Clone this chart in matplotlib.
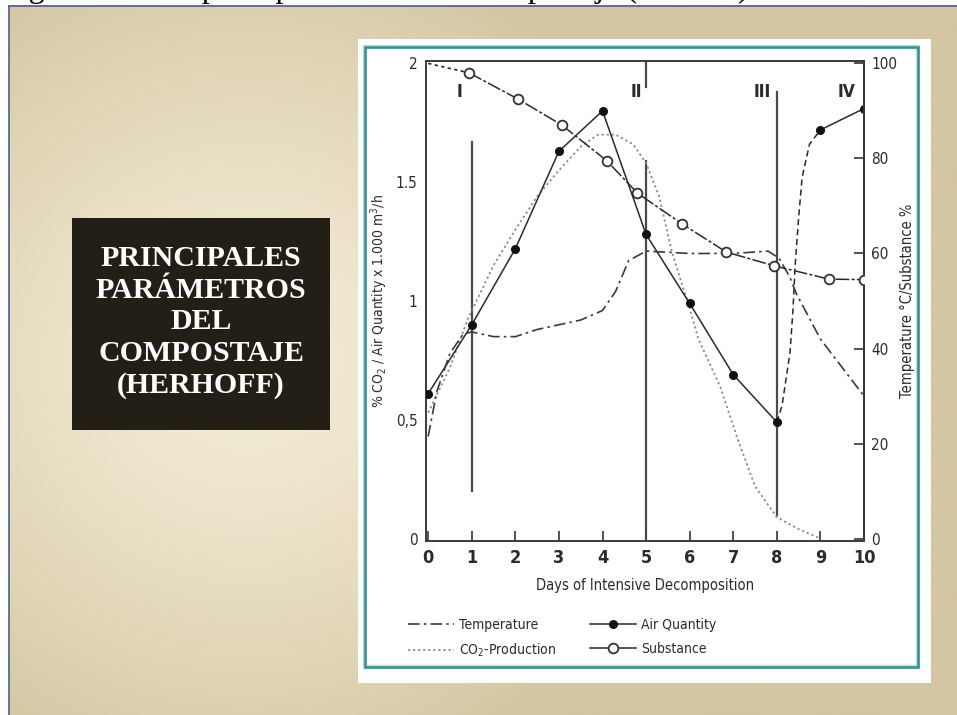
import numpy as np
import matplotlib.pyplot as plt
from matplotlib.patches import Rectangle
from matplotlib.lines import Line2D

plt.rcParams['font.family'] = ['DejaVu Sans']
plt.rcParams['font.stretch'] = 'condensed'

# --- Datos de las curvas (Herhoff) ---
# Caudal de aire (x 1.000 m3/h) por día de descomposición intensiva
dias = [0, 1, 2, 3, 4, 5, 6, 7, 8, 9, 10]
caudal_aire = [0.61, 0.90, 1.22, 1.63, 1.80, 1.28, 0.99, 0.69, 0.49, 1.72, 1.81]

# subida brusca del caudal de aire entre el día 8 y el 9
dias_subida = [8, 8.12, 8.3, 8.37, 8.42, 8.5, 8.58, 8.75, 9]
aire_subida = [0.49, 0.56, 0.78, 0.96, 1.15, 1.35, 1.52, 1.66, 1.72]

# producción de CO2 (%)
dias_co2 = [0, 0.5, 0.9, 1.5, 2.0, 2.5, 3.0, 3.5, 3.9, 4.3, 4.7, 5.0, 5.3,
            5.6, 6.0, 6.2, 6.7, 7.1, 7.5, 8.0, 8.5, 9.0]
co2 = [0.53, 0.72, 0.92, 1.15, 1.30, 1.44, 1.55, 1.65, 1.70, 1.70, 1.66, 1.58,
       1.44, 1.20, 0.97, 0.84, 0.64, 0.42, 0.22, 0.09, 0.04, 0.0]

# temperatura (°C)
dias_temp = [0, 0.2, 0.5, 0.8, 1.0, 1.5, 2.0, 2.5, 3.0, 3.5, 4.0, 4.3, 4.6,
             5.0, 6.0, 7.0, 7.8, 8.05, 8.3, 8.45, 9.0, 9.5, 10]
temperatura = [21.5, 31, 39, 43, 43.5, 42.5, 42.5, 44, 45, 46, 48, 52, 58.5,
               60.5, 60, 60, 60.5, 59, 55, 51.5, 42, 36, 30]

# sustancia (%)
dias_sust = [0, 0.94, 2.06, 3.07, 4.1, 4.8, 5.83, 6.84, 7.94, 9.2, 10]
sustancia = [100, 98, 92.5, 87, 79.5, 72.7, 66.2, 60.3, 57.4, 54.6, 54.5]

# fases del proceso
fases = ['I', 'II', 'III', 'IV']
pos_fases = [0.73, 4.78, 7.67, 9.61]
lineas_fase = [1, 5, 8]
limites_fase = [(0.2, 1.67), (0.0, 1.59), (0.1, 1.88)]

ticks_izq = [0, 0.5, 1, 1.5, 2]
etiquetas_izq = ['0', '0,5', '1', '1.5', '2']
ticks_der = [0, 20, 40, 60, 80, 100]
etiquetas_der = ['0', '20', '40', '60', '80', '100']

W, H = 957, 715
fig = plt.figure(figsize=(W / 100, H / 100), dpi=100)

# --- Fondo de la diapositiva ---
fondo = fig.add_axes([0, 0, 1, 1])
fondo.axis('off')

yy, xx = np.mgrid[0:H, 0:W]
r = np.sqrt(((xx - 240) / 460.0) ** 2 + ((yy - 360) / 440.0) ** 2)
t = np.clip(r, 0, 1) ** 1.3
claro = np.array([244, 237, 216]) / 255
oscuro = np.array([212, 198, 162]) / 255
img = claro * (1 - t[..., None]) + oscuro * t[..., None]
fondo.imshow(img, extent=(8.5, W, H, 5.8), aspect='auto', zorder=1)
fondo.set_xlim(0, W)
fondo.set_ylim(H, 0)

fondo.text(2, -3, 'Figura 1. Principales parámetros del compostaje (Herhoff)',
           fontsize=23, family='Liberation Serif', fontstretch='normal',
           ha='left', va='baseline', color='black', zorder=0.5)
fondo.plot([8.5, W], [5.8, 5.8], color='#4a5f8f', lw=1.2, zorder=2)
fondo.plot([8.5, 8.5], [5.8, H], color='#4a5f8f', lw=1.2, zorder=2)

# recuadro oscuro con el título
fondo.add_patch(Rectangle((72, 218), 258, 212, fc='#231f16', ec='none', zorder=2))
fondo.text(201, 322, 'PRINCIPALES\nPARÁMETROS\nDEL\nCOMPOSTAJE\n(HERHOFF)',
           fontsize=21.5, family='Liberation Serif', fontstretch='normal',
           fontweight='bold', color='white', ha='center', va='center',
           multialignment='center', linespacing=1.22, zorder=3)

# panel blanco con marco verde azulado
fondo.add_patch(Rectangle((358, 39), 573, 644, fc='white', ec='none', zorder=2))
fondo.add_patch(Rectangle((365, 47), 553, 620, fill=False, ec='#3f9c9c',
                          lw=3.2, alpha=0.35, zorder=3))
fondo.add_patch(Rectangle((365, 47), 553, 620, fill=False, ec='#36908f',
                          lw=1.8, zorder=3))

# --- Gráfico ---
gris = '#2a2a2a'
ax = fig.add_axes([426 / W, 1 - 541 / H, 438 / W, 480 / H])
ax.patch.set_alpha(0)
ax.set_xlim(-0.05, 10.0)
ax.set_ylim(-0.01, 2.01)
ax2 = ax.twinx()
ax2.set_ylim(-0.5, 100.5)

# líneas verticales de las fases
for x, (y0, y1) in zip(lineas_fase, limites_fase):
    ax.plot([x, x], [y0, y1], color='#4a4a4a', lw=1.6, zorder=1)
ax.plot([5, 5], [1.9, 2.01], color='#4a4a4a', lw=1.6, zorder=1)
for txt, x in zip(fases, pos_fases):
    ax.text(x, 1.878, txt, fontsize=12.5, fontweight='bold', color=gris,
            ha='center', va='center')

# producción de CO2
ax.plot(dias_co2, co2, color='#8a8a8a', lw=1.3, ls=(0, (1.2, 1.6)), zorder=2)

# caudal de aire
ax.plot(dias[:9], caudal_aire[:9], color=gris, lw=1.1, zorder=3)
ax.plot(dias_subida, aire_subida, color=gris, lw=1.1, ls=(0, (4, 2.5)), zorder=3)
ax.plot(dias[9:], caudal_aire[9:], color=gris, lw=1.1, zorder=3)
ax.plot(dias, caudal_aire, ls='none', marker='o', ms=5.5, color='#111111', zorder=4)

# temperatura
ax2.plot(dias_temp, temperatura, color='#3a3a3a', lw=1.2,
         ls=(0, (7, 2.5, 1.5, 2.5)), zorder=3)

# sustancia
ax2.plot(dias_sust[:2], sustancia[:2], color=gris, lw=1.2, ls=(0, (2, 2)), zorder=3)
ax2.plot(dias_sust[1:], sustancia[1:], color=gris, lw=1.1,
         ls=(0, (9, 1.5, 2, 1.5)), zorder=3)
ax2.plot(dias_sust[1:], sustancia[1:], ls='none', marker='o', ms=7,
         mfc='white', mec='#333333', mew=1.3, zorder=4)

# ejes
for a in (ax, ax2):
    for s in a.spines.values():
        s.set_color('#3a3a3a')
        s.set_linewidth(1.4)
ax2.spines['left'].set_visible(False)
ax2.spines['top'].set_visible(False)
ax2.spines['bottom'].set_visible(False)

ax.set_xticks(dias)
ax.set_xticklabels([str(d) for d in dias], fontsize=13, fontweight='bold', color=gris)
ax.tick_params(axis='x', direction='in', length=7, width=1.3, color='#444444', pad=6)
ax.set_yticks(ticks_izq)
ax.set_yticklabels(etiquetas_izq, fontsize=11, color=gris)
ax.tick_params(axis='y', length=0, pad=6)
ax2.set_yticks(ticks_der)
ax2.set_yticklabels(etiquetas_der, fontsize=11, color=gris)
ax2.tick_params(axis='y', direction='in', length=7, width=1.3, color='#444444', pad=5)

ax.set_xlabel('Days of Intensive Decomposition', fontsize=10.5, color=gris, labelpad=8)
ax.set_ylabel('% CO$_2$ / Air Quantity x 1.000 m$^3$/h', fontsize=10,
              color=gris, labelpad=4)
ax2.set_ylabel('Temperature °C/Substance %', fontsize=10.5, color=gris,
               rotation=90, labelpad=2)

# --- Leyenda (dos columnas) ---
h_temp = Line2D([], [], color='#3a3a3a', lw=1.2, ls=(0, (7, 2.5, 1.5, 2.5)))
h_co2 = Line2D([], [], color='#8a8a8a', lw=1.3, ls=(0, (1.2, 1.6)))
h_aire = Line2D([], [], color=gris, lw=1.1, marker='o', ms=5.5, mfc='#111111', mec='#111111')
h_sust = Line2D([], [], color=gris, lw=1.1, marker='o', ms=7, mfc='white', mec='#333333', mew=1.3)

fig.legend([h_temp, h_co2, h_aire, h_sust],
           ['Temperature', 'CO$_2$-Production', 'Air Quantity', 'Substance'],
           ncol=2, loc='upper left', bbox_to_anchor=(408 / W, 1 - 618 / H),
           frameon=False, fontsize=10, handlelength=3.3, handletextpad=0.4,
           labelspacing=0.7, columnspacing=2.4, borderpad=0, borderaxespad=0,
           labelcolor=gris)

fig.savefig('out.png', dpi=100)
